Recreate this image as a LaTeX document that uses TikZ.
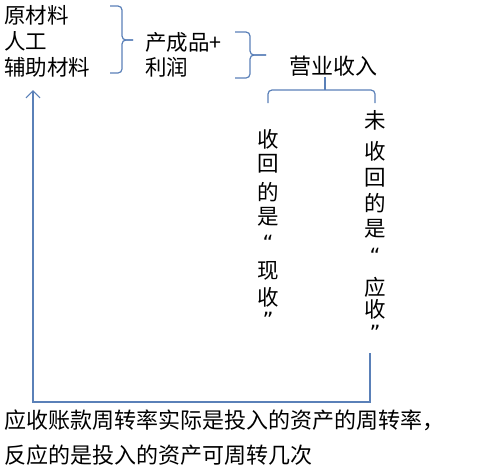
\documentclass[tikz,border=0pt]{standalone}
\usepackage{fontspec}
\setmainfont{Noto Sans CJK SC}
\newfontfamily\quotefont{DejaVu Sans}
\usetikzlibrary{arrows.meta}
\definecolor{lineblue}{HTML}{5A80B8}
\tikzset{
  txt/.style={font=\fontsize{21.5}{25}\selectfont, inner sep=0pt, text=black},
  bigtxt/.style={font=\fontsize{22}{26}\selectfont, inner sep=0pt, text=black},
  qt/.style={font=\fontsize{21}{25}\selectfont\quotefont, inner sep=0pt, text=black, anchor=base},
  ln/.style={draw=lineblue, line width=1.2pt, rounded corners=4pt},
}
\begin{document}
\begin{tikzpicture}[x=1pt,y=-1pt]
\useasboundingbox (0,0) rectangle (500,475);
% left column
\node[txt, anchor=west] (a1) at (4,15) {原材料};
\node[txt, anchor=west] (a2) at (4,41) {人工};
\node[txt, anchor=west] (a3) at (4,67) {辅助材料};
% middle
\node[txt, anchor=west] (b1) at (145,42) {产成品+};
\node[txt, anchor=west] (b2) at (145,67) {利润};
% revenue
\node[bigtxt, anchor=west] (c) at (289,66) {营业收入};
% vertical columns
\foreach \ch/\yy [count=\i] in {收/139, 回/164, 的/192, 是/217, 现/271, 收/297}
  \node[txt] (l\i) at (268,\yy) {\ch};
\node[qt] (lq1) at (268,250) {“};
\node[qt] (lq2) at (268,327) {”};
\foreach \ch/\yy [count=\i] in {未/120, 收/151, 回/178, 的/203, 是/229, 应/287, 收/309}
  \node[txt] (r\i) at (375,\yy) {\ch};
\node[qt] (rq1) at (375,263) {“};
\node[qt] (rq2) at (375,340) {”};
% brace 1
\draw[ln] (110,6) -- (122,6) -- (122,40) -- (133,40);
\draw[ln] (133,40) -- (122,40) -- (122,73) -- (110,73);
% brace 2
\draw[ln] (235,32) -- (250,32) -- (250,55) -- (266,55);
\draw[ln] (266,55) -- (250,55) -- (250,78) -- (235,78);
% bracket under revenue
\coordinate (stemtop) at (325,77);
\draw[ln] (268,103) -- (268,90) -- (375,90) -- (375,103);
\draw[ln, rounded corners=0] (stemtop) -- (325,90);
% bottom text
\node[bigtxt, anchor=west] (d1) at (4,420) {应收账款周转率实际是投入的资产的周转率，};
\node[bigtxt, anchor=west] (d2) at (4,455) {反应的是投入的资产可周转几次};
% feedback arrow
\coordinate (loopstart) at (370,353);
\coordinate (arrowtip) at (33,90);
\draw[ln, rounded corners=0, -{Straight Barb[length=7pt,width=14pt]}] (loopstart) -- (370,402) -- (33,402) -- (arrowtip);
\end{tikzpicture}
\end{document}
